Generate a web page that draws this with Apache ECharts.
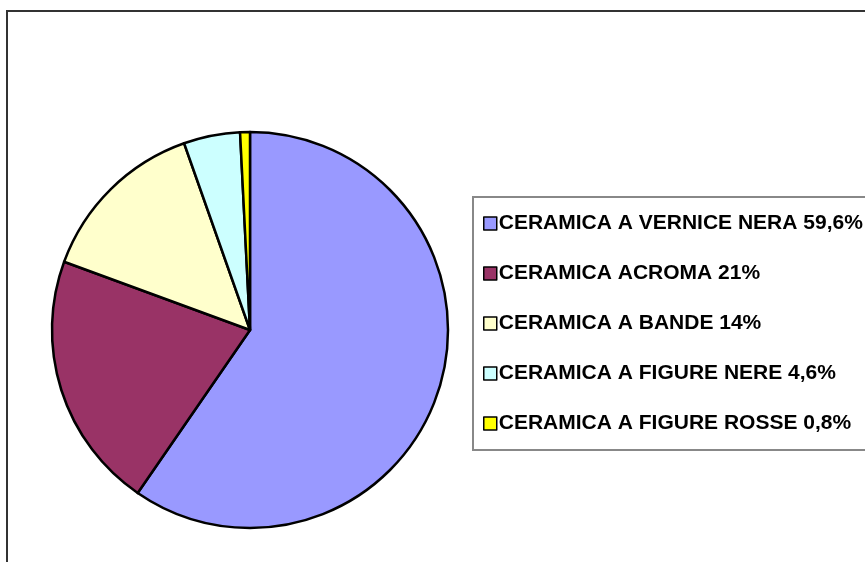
<!DOCTYPE html>
<html>
<head>
<meta charset="utf-8">
<script src="https://cdn.jsdelivr.net/npm/echarts@6/dist/echarts.min.js"></script>
<style>
  html, body { margin: 0; padding: 0; background: #fff; }
  #chart { width: 865px; height: 562px; }
</style>
</head>
<body>
<div id="chart"></div>
<script>
// dati
const categories = [
  'CERAMICA A VERNICE NERA 59,6%',
  'CERAMICA ACROMA 21%',
  'CERAMICA A BANDE 14%',
  'CERAMICA A FIGURE NERE 4,6%',
  'CERAMICA A FIGURE ROSSE 0,8%'
]
const values = [59.6, 21, 14, 4.6, 0.8]
const palette = ['#9999FF', '#993366', '#FFFFCC', '#CCFFFF', '#FFFF00']

const chart = echarts.init(document.getElementById('chart'), null, { renderer: 'canvas' })

const option = {
  animation: false,
  backgroundColor: '#fff',
  color: palette,
  graphic: [{
    // cornice esterna (tagliata a destra e in basso)
    type: 'rect',
    shape: { x: 7, y: 11, width: 900, height: 600 },
    style: { fill: 'none', stroke: '#333', lineWidth: 2 },
    silent: true
  }, {
    // riquadro della legenda, esce dal bordo destro
    type: 'rect',
    shape: { x: 473, y: 197, width: 450, height: 253 },
    style: { fill: 'none', stroke: '#888', lineWidth: 2 },
    silent: true
  }],
  legend: {
    orient: 'vertical',
    left: 473,
    top: 197,
    padding: [16, 10, 16, 10],
    itemWidth: 13,
    itemHeight: 13,
    itemGap: 29,
    icon: 'rect',
    itemStyle: { borderColor: '#000', borderWidth: 1.5 },
    textStyle: {
      color: '#000',
      fontWeight: 'bold',
      fontSize: 21,
      fontFamily: 'Arial, "Liberation Sans", sans-serif',
      padding: [0, 0, 0, -3]
    },
    data: categories
  },
  series: [{
    type: 'pie',
    center: [250, 330],
    radius: 198,
    startAngle: 90,
    clockwise: true,
    label: { show: false },
    labelLine: { show: false },
    emphasis: { disabled: true },
    itemStyle: { borderColor: '#000', borderWidth: 2.5 },
    data: categories.map((name, i) => ({ name: name, value: values[i] }))
  }]
}

chart.setOption(option)
</script>
</body>
</html>
